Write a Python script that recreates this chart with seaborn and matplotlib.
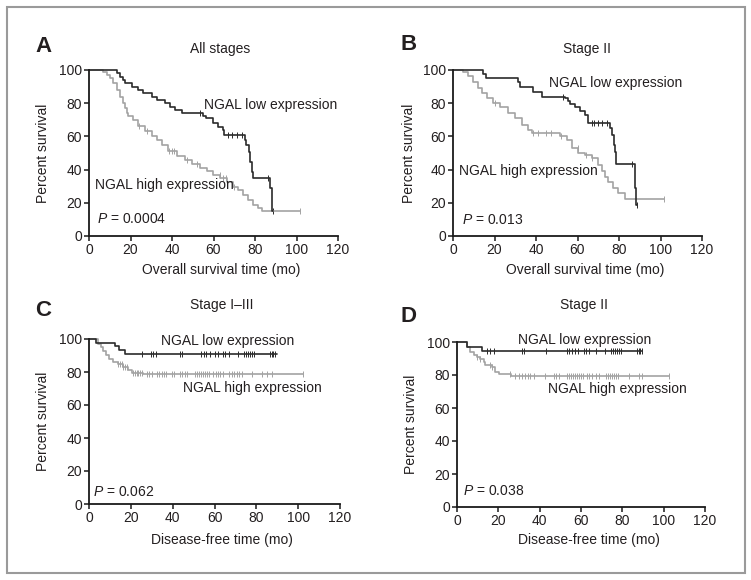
import numpy as np
import pandas as pd
import matplotlib.pyplot as plt
from matplotlib.patches import Rectangle
import seaborn as sns

# ---- A: overall survival, all stages
a_low_t = [0, 13.3, 14.9, 16.5, 17.3, 20.5, 23.8, 26.2, 30.2, 32.6, 36.6, 39.0, 41.4, 44.6, 55.1, 56.4,
           59.9, 62.3, 64.7, 65.0, 75.2, 75.8, 77.0, 77.5, 78.4, 78.9, 87.2, 88.0, 88.5]
a_low_s = [100, 98, 96, 94, 92, 90, 88, 86, 84, 82, 80, 78, 76, 74, 72, 70.9,
           67.9, 65.9, 63.9, 60.8, 57.8, 54.8, 50.8, 44.8, 38.8, 34.7, 28.7, 15.3, 15.3]
a_low_cens = [53.5, 67.1, 68.8, 71.2, 73.6, 86.4, 88.5]
a_high_t = [0, 6.9, 8.5, 10.1, 11.7, 13.3, 14.9, 16.5, 17.3, 18.2, 19.0, 21.4, 23.8, 27.0, 30.2, 32.6,
            35.0, 38.2, 42.2, 46.3, 49.5, 53.5, 56.7, 59.9, 63.1, 66.3, 69.6, 72.0, 74.4, 76.8, 79.2,
            81.6, 83.2, 101.7]
a_high_s = [100, 99, 97, 95, 92, 88, 84, 80, 77, 74, 72, 70, 66, 63, 60, 58,
            55, 51, 48, 45.5, 43.5, 41, 39, 36.8, 34.7, 32.7, 29.7, 27.7, 24.7, 21.7, 18.7,
            16.7, 15.3, 15.3]
a_high_cens = [24, 28, 38.5, 40, 41, 47, 52, 63, 64.5, 66, 70, 101.7]

# ---- B: overall survival, stage II
b_low_t = [0, 14.6, 16.0, 31.5, 32.3, 38.7, 42.7, 54.0, 55.6, 56.4, 58.8, 61.2, 63.6, 65.2, 75.6,
           76.4, 77.7, 78.1, 78.4, 87.7, 88.2, 88.5]
b_low_s = [100, 97.5, 95, 92.5, 89.5, 87, 84, 83, 81.5, 79.5, 77.5, 75.5, 73, 67.9, 64.9,
           60.8, 54.8, 50.8, 43.4, 28.7, 18.7, 18.7]
b_low_cens = [53.2, 66.8, 68.1, 70.0, 71.6, 74.1, 86.1, 88.5]
b_high_t = [0, 5.0, 7.4, 9.8, 12.2, 13.8, 16.2, 19.4, 22.6, 26.7, 29.9, 33.1, 36.3, 37.9, 51.6,
            54.8, 57.2, 60.4, 63.6, 66.8, 70.0, 71.6, 73.2, 74.8, 77.3, 79.7, 82.9, 101.7]
b_high_s = [100, 98.5, 96.5, 93, 89, 86, 83, 80, 78, 74, 71, 67, 64, 62, 60,
            57.8, 53, 50, 48.5, 46.8, 43, 39, 35.5, 32.7, 28.7, 25.7, 22.5, 22.5]
b_high_cens = [20, 38.7, 41, 45, 47, 52, 60, 64, 67, 101.7]

# ---- C: disease-free, stage I-III
c_low_t = [0, 3.5, 12.3, 14.4, 17.1, 89.7]
c_low_s = [100, 97.8, 95.6, 93.4, 91.2, 91.2]
c_low_cens = [25.2, 29.6, 30.8, 31.9, 43.5, 44.6, 53.5, 54.8, 56.1, 57.8, 60.1, 61.8, 63.9, 65.0,
              66.9, 71.1, 74.2, 75.2, 76.2, 77.1, 78.1, 79.0, 86.5, 87.3, 88.1, 88.9]
c_high_t = [0, 4.5, 5.7, 6.9, 8.0, 9.6, 11.6, 14.0, 16.4, 18.8, 20.4, 26.0, 102.4]
c_high_s = [100, 97, 95, 93, 90.5, 88, 86, 85, 83, 81, 79.5, 78.5, 78.5]
c_high_cens = [14.0, 14.8, 15.6, 16.4, 17.2, 18.0, 21.2, 22.0, 22.8, 23.6, 24.4, 25.2, 27.6, 28.7,
               30.0, 32.3, 33.5, 34.7, 35.7, 36.6, 39.5, 40.8, 43.5, 44.6, 45.9, 46.7, 50.7, 51.6,
               52.6, 53.5, 54.5, 55.4, 56.4, 57.4, 59.4, 60.5, 61.5, 62.5, 64.2, 66.9, 68.2, 69.5,
               70.6, 71.7, 73.0, 77.8, 82.5, 84.9, 87.3, 102.4]

# ---- D: disease-free, stage II
d_low_t = [0, 4.8, 12.1, 89.5]
d_low_s = [100, 97.2, 94.7, 94.7]
d_low_cens = [14.5, 16.1, 17.7, 31.4, 32.3, 43.1, 53.2, 54.3, 55.6, 57.2, 58.5, 61.3, 62.4, 64.0,
              67.2, 71.8, 74.7, 75.6, 76.6, 77.5, 78.5, 79.5, 87.1, 87.9, 88.7, 89.5]
d_high_t = [0, 4.8, 6.4, 8.1, 9.7, 11.3, 12.9, 13.7, 16.9, 18.5, 20.2, 26.3, 102.4]
d_high_s = [100, 97, 94, 92, 91, 90, 88, 86, 84.6, 82, 80.4, 79.2, 79.2]
d_high_cens = [9.7, 11.3, 16.1, 16.9, 25.8, 28.2, 29.8, 31.4, 33.1, 34.4, 35.5, 37.1, 42.7, 46.8,
               47.9, 49.2, 53.2, 54.3, 55.3, 56.3, 57.2, 58.2, 59.2, 60.2, 61.1, 62.9, 64.0, 65.3,
               67.2, 68.5, 72.1, 73.0, 74.0, 75.0, 75.9, 76.9, 77.9, 83.1, 87.9, 89.5, 102.4]

letters = ["A", "B", "C", "D"]
titles = ["All stages", "Stage II", "Stage I\u2013III", "Stage II"]
xlabels = ["Overall survival time (mo)", "Overall survival time (mo)",
           "Disease-free time (mo)", "Disease-free time (mo)"]
pvalues = ["0.0004", "0.013", "0.062", "0.038"]

sns.set_style("ticks")
plt.rcParams['font.family'] = ['Liberation Sans', 'DejaVu Sans']
plt.rcParams['mathtext.fontset'] = 'custom'
plt.rcParams['mathtext.it'] = 'Liberation Sans:italic'
plt.rcParams['mathtext.rm'] = 'Liberation Sans'

TXT = '#231f20'
DARK = '#2b2b2b'
GREY = '#a3a3a3'


def km_curve(ax, t, s, cens, color):
    df = pd.DataFrame({'t': t, 's': s})
    sns.lineplot(data=df, x='t', y='s', drawstyle='steps-post', color=color, lw=1.2,
                 estimator=None, sort=False, clip_on=False, ax=ax)
    idx = np.searchsorted(t, cens, side='right') - 1
    cs = np.array(s)[idx]
    # censored cases as small ticks
    sns.scatterplot(x=cens, y=cs, marker='|', s=16, color=color, linewidth=0.7,
                    clip_on=False, ax=ax)


fig = plt.figure(figsize=(7.51, 5.8), dpi=100)
fig.patches.append(Rectangle((7 / 751, 7 / 580), 738 / 751, 566 / 580, transform=fig.transFigure,
                             fill=False, edgecolor='#9a9a9a', lw=1.5))

W, H = 751, 580
# axes boxes in pixels: left, top, right, bottom
boxes = [(89, 70, 338, 236), (453, 70, 702, 236), (89, 339, 340, 504), (457, 342, 705, 507)]
curves = [
    (a_low_t, a_low_s, a_low_cens, a_high_t, a_high_s, a_high_cens),
    (b_low_t, b_low_s, b_low_cens, b_high_t, b_high_s, b_high_cens),
    (c_low_t, c_low_s, c_low_cens, c_high_t, c_high_s, c_high_cens),
    (d_low_t, d_low_s, d_low_cens, d_high_t, d_high_s, d_high_cens),
]
# label positions (data coords): low text, high text, p text
low_pos = [(55.4, 79), (46.3, 92), (34.3, 99), (29.7, 101.5)]
high_pos = [(2.9, 31), (3.0, 39), (45.1, 70), (44.2, 71.3)]
p_pos = [(3.7, 10), (4.5, 9.5), (2.1, 7.5), (3.1, 9.5)]
letter_px = [(43, 46), (409, 45), (43, 311), (408, 316)]
title_px = [(220, 49), (587, 49), (222, 305), (584, 305)]
ylab_px = [43, 409, 43, 411]
xlab_py = [270, 270, 540, 540]

for i in range(4):
    l, t, r, b = boxes[i]
    ax = fig.add_axes([l / W, 1 - b / H, (r - l) / W, (b - t) / H])
    lt, ls, lc, ht, hs, hc = curves[i]
    km_curve(ax, ht, hs, hc, GREY)
    km_curve(ax, lt, ls, lc, DARK)
    ax.set_xlim(0, 120)
    ax.set_ylim(0, 100)
    ax.set_xticks(np.arange(0, 121, 20))
    ax.set_yticks(np.arange(0, 101, 20))
    sns.despine(ax=ax)
    for sp in ['left', 'bottom']:
        ax.spines[sp].set_linewidth(1.3)
        ax.spines[sp].set_color('#1a1a1a')
    ax.tick_params(length=3.5, width=1.1, pad=1.5, labelsize=10, colors='#1a1a1a',
                   labelcolor=TXT)
    ax.set_xlabel("")
    ax.set_ylabel("")
    ax.text(*low_pos[i], "NGAL low expression", fontsize=10, color=TXT, va='center')
    ax.text(*high_pos[i], "NGAL high expression", fontsize=10, color=TXT, va='center')
    ax.text(*p_pos[i], "$P$ = " + pvalues[i], fontsize=10, color=TXT, va='center')

    fig.text(letter_px[i][0] / W, 1 - letter_px[i][1] / H, letters[i], fontsize=16,
             fontweight='bold', color=TXT, ha='center', va='center')
    fig.text(title_px[i][0] / W, 1 - title_px[i][1] / H, titles[i], fontsize=10,
             color=TXT, ha='center', va='center')
    fig.text(ylab_px[i] / W, 1 - (t + b) / 2 / H, "Percent survival", fontsize=10,
             color=TXT, ha='center', va='center', rotation=90)
    fig.text((l + (r - l) * 0.53) / W, 1 - xlab_py[i] / H, xlabels[i], fontsize=10,
             color=TXT, ha='center', va='center')

fig.savefig("out.png", dpi=100)
